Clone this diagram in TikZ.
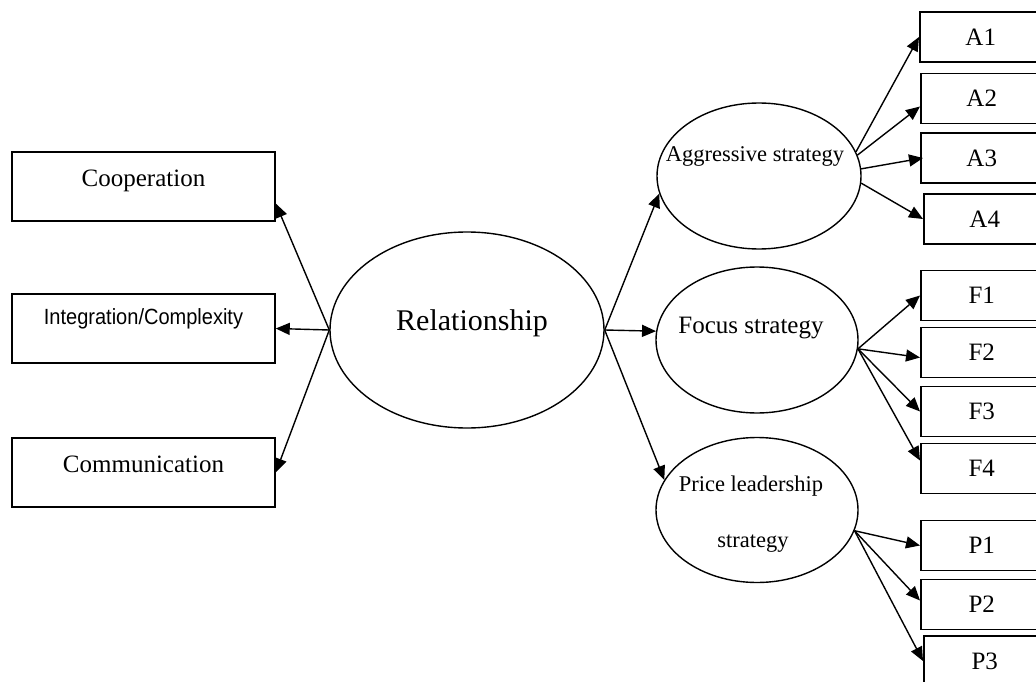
\documentclass[tikz,border=0pt]{standalone}
\usepackage{fontspec}
\setmainfont{Liberation Serif}
\newfontfamily\labelsans[FakeStretch=0.91]{Liberation Sans}
\usetikzlibrary{arrows.meta,shapes.geometric}
% zero-size label, moved by (#1,#2) from the node centre
\newcommand{\lift}[3]{\raisebox{#2}[0pt][0pt]{\makebox[0pt]{\kern#1\makebox[0pt]{#3}\kern-#1}}}
\tikzset{
  factor/.style={draw,line width=1.5pt,minimum width=263pt,minimum height=69pt,
    text height=0pt,text depth=0pt,font=\fontsize{25}{30}\selectfont},
  latent/.style={draw,ellipse,line width=1.4pt,inner sep=0pt},
  item/.style={draw,line width=1.5pt,anchor=west,minimum width=122pt,
    minimum height=50pt,inner sep=0pt,font=\fontsize{25}{30}\selectfont},
  link/.style={-{Triangle[length=14pt,width=12pt]},line width=1.4pt}
}

\begin{document}
\begin{tikzpicture}[x=1pt,y=-1pt]
  \path[use as bounding box,clip] (0,0) rectangle (1036,682);

  % dimensions of the relationship
  \node[factor] (coop) at (143.5,186.5) {Cooperation};
  \node[factor,text depth=8pt,font=\labelsans\fontsize{22}{26}\selectfont]
    (integ) at (143.5,328.5) {Integration/Complexity};
  \node[factor] (comm) at (143.5,472.5) {Communication};

  % central construct
  \node[latent,minimum width=274pt,minimum height=196pt,font=\fontsize{30}{36}\selectfont]
    (rel) at (467,330) {\lift{5pt}{0pt}{Relationship}};

  % strategies
  \node[latent,minimum width=204pt,minimum height=146pt,font=\fontsize{22.5}{27}\selectfont]
    (agg) at (759,176) {\lift{-4pt}{15pt}{Aggressive strategy}};
  \node[latent,minimum width=202pt,minimum height=146pt,font=\fontsize{25}{30}\selectfont]
    (foc) at (757,340) {\lift{-6pt}{7pt}{Focus strategy}};
  \node[latent,minimum width=202pt,minimum height=145pt,font=\fontsize{22.5}{27}\selectfont]
    (pri) at (757,510) {\lift{-6pt}{19pt}{Price leadership}\lift{-4pt}{-37pt}{strategy}};

  % indicators
  \node[item] (a1) at (919,37) {A1};
  \node[item] (a2) at (920,98.5) {A2};
  \node[item] (a3) at (920,158) {A3};
  \node[item] (a4) at (923,219) {A4};
  \node[item] (f1) at (920,295.5) {F1};
  \node[item] (f2) at (920,352.5) {F2};
  \node[item] (f3) at (920,411.5) {F3};
  \node[item] (f4) at (920,468.5) {F4};
  \node[item] (p1) at (920,545.5) {P1};
  \node[item] (p2) at (920,604.5) {P2};
  \node[item] (p3) at (923,661) {P3};

  % left fan
  \draw[link] (rel.west) -- ([yshift=-17pt]coop.east);
  \draw[link] (rel.west) -- (integ.east);
  \draw[link] (rel.west) -- (comm.east);

  % right fan
  \draw[link] (rel.east) -- (agg.190);
  \draw[link] (rel.east) -- (foc.175);
  \draw[link] (rel.east) -- (pri.162);

  \draw[link] (agg.14) -- (a1.west);
  \draw[link] (agg.12) -- ([yshift=-8pt]a2.west);
  \draw[link] (agg.4) -- ([xshift=3pt]a3.west);
  \draw[link] (agg.-4) -- (a4.west);

  \draw[link] (foc.-5) -- (f1.west);
  \draw[link] (foc.-5) -- ([yshift=-5pt]f2.west);
  \draw[link] (foc.-5) -- (f3.west);
  \draw[link] (foc.-5) -- ([yshift=8pt]f4.west);

  \draw[link] (pri.-12) -- (p1.west);
  \draw[link] (pri.-12) -- ([yshift=4pt]p2.west);
  \draw[link] (pri.-12) -- (p3.west);
\end{tikzpicture}
\end{document}
